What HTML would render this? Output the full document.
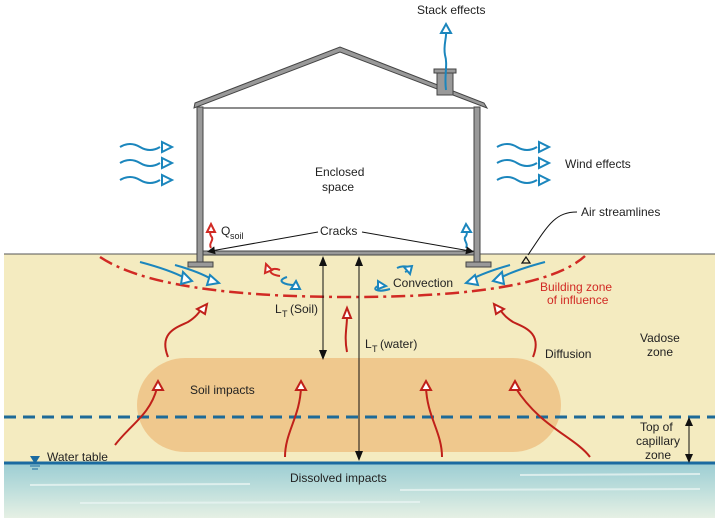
<!DOCTYPE html>
<html><head><meta charset="utf-8"><style>
html,body{margin:0;padding:0;background:#fff}
svg{display:block}
text{font-family:"Liberation Sans",sans-serif;font-size:12px;fill:#222}
</style></head><body>
<svg width="719" height="522" viewBox="0 0 719 522" xmlns="http://www.w3.org/2000/svg">
<defs>
<linearGradient id="wat" x1="0" y1="0" x2="0" y2="1">
<stop offset="0" stop-color="#9ccdd3"/><stop offset="0.5" stop-color="#bfdfdc"/><stop offset="1" stop-color="#e6f0e4"/>
</linearGradient>
<marker id="ah" markerWidth="8" markerHeight="8" refX="4" refY="4" orient="auto"><path d="M0,0 L8,4 L0,8 Z" fill="#111"/></marker>
</defs>
<rect x="4" y="254" width="711" height="209" fill="#f4ebc0"/>
<rect x="4" y="463" width="711" height="55" fill="url(#wat)"/>
<g stroke="#e8f4f2" stroke-width="2" opacity="0.8">
<line x1="30" y1="485" x2="250" y2="484"/><line x1="400" y1="490" x2="700" y2="489"/><line x1="80" y1="503" x2="420" y2="502"/><line x1="520" y1="475" x2="700" y2="474"/>
</g>
<rect x="137" y="358" width="424" height="94" rx="48" fill="#eec487" opacity="0.9"/>
<line x1="4" y1="254" x2="715" y2="254" stroke="#555" stroke-width="1"/>
<line x1="4" y1="417" x2="715" y2="417" stroke="#1d6a98" stroke-width="3" stroke-dasharray="12,7"/>
<line x1="4" y1="463" x2="715" y2="463" stroke="#1a6aa0" stroke-width="3"/>
<g fill="#999" stroke="#444" stroke-width="1">
<polygon points="195,103 340,47 484,103 487,108 340,52 194,108"/>
<rect x="434" y="69" width="22" height="4"/>
<rect x="437" y="73" width="16" height="22"/>
<rect x="197" y="107" width="6" height="155"/>
<rect x="474" y="107" width="6" height="155"/>
<rect x="203" y="251" width="271" height="4"/>
<rect x="188" y="262" width="25" height="5"/>
<rect x="466" y="262" width="25" height="5"/>
</g>
<line x1="203" y1="108" x2="474" y2="108" stroke="#666" stroke-width="1.5"/>
<path d="M446,90 C444,75 448,65 445,55 C443,45 447,38 446,30" stroke="#1b86bd" stroke-width="2" fill="none"/>
<polygon points="441,33 446,24 451,33" fill="#fff" stroke="#1b86bd" stroke-width="2"/>
<g stroke="#1b86bd" stroke-width="2" fill="none">
<path d="M120,147 q10,-6 20,0 q10,6 20,0"/><path d="M120,163 q10,-6 20,0 q10,6 20,0"/><path d="M120,180 q10,-6 20,0 q10,6 20,0"/>
<path d="M497,147 q10,-6 20,0 q10,6 20,0"/><path d="M497,163 q10,-6 20,0 q10,6 20,0"/><path d="M497,180 q10,-6 20,0 q10,6 20,0"/>
</g>
<g fill="#fff" stroke="#1b86bd" stroke-width="2">
<polygon points="162,142 172,147 162,152"/><polygon points="162,158 172,163 162,168"/><polygon points="162,175 172,180 162,185"/>
<polygon points="539,142 549,147 539,152"/><polygon points="539,158 549,163 539,168"/><polygon points="539,175 549,180 539,185"/>
</g>
<path d="M100,257 Q160,297 350,297 Q540,297 585,256" stroke="#d12a24" stroke-width="2.5" fill="none" stroke-dasharray="14,5,3,5"/>
<g stroke="#1b86bd" stroke-width="2" fill="none">
<path d="M140,262 Q170,270 185,278"/><path d="M175,265 Q200,272 213,280"/>
<path d="M545,262 Q515,270 500,278"/><path d="M510,265 Q485,272 470,280"/>
<path d="M211,248 c-3,-5 4,-8 0,-12 c-2,-3 0,-6 0,-8" stroke="#d12a24"/>
<path d="M466,248 c3,-5 -4,-8 0,-12 c2,-3 0,-6 0,-8"/>
<path d="M295,285 c-10,0 -20,-4 -8,-8 M380,285 c-10,4 -3,8 10,4 M405,272 c10,-4 0,-8 -8,-4"/>
<path d="M280,270 c-10,-4 -15,4 0,6" stroke="#d12a24"/>
</g>
<g fill="#fff" stroke="#1b86bd" stroke-width="2">
<polygon points="183,272 192,281 181,284"/><polygon points="210,275 219,283 207,285"/>
<polygon points="502,272 493,281 504,284"/><polygon points="475,275 466,283 478,285"/>
<polygon points="462,232 466,224 471,232"/>
<polygon points="296,281 300,289 291,289"/><polygon points="378,281 378,289 386,286"/><polygon points="404,267 412,266 410,274"/>
</g>
<g fill="#fff" stroke="#d12a24" stroke-width="2">
<polygon points="207,232 211,224 215,232"/><polygon points="266,264 272,270 265,273"/>
</g>
<polygon points="522,263 526,257 530,263" fill="none" stroke="#111" stroke-width="1.2"/>
<line x1="318" y1="232" x2="211" y2="251" stroke="#111" stroke-width="1" marker-end="url(#ah)"/>
<line x1="362" y1="232" x2="470" y2="251" stroke="#111" stroke-width="1" marker-end="url(#ah)"/>
<path d="M577,212 C555,212 548,225 528,255" stroke="#111" stroke-width="1" fill="none"/>
<line x1="323" y1="262" x2="323" y2="352" stroke="#111" stroke-width="1"/>
<polygon points="319,266 323,256 327,266" fill="#111"/><polygon points="319,350 323,360 327,350" fill="#111"/>
<line x1="359" y1="262" x2="359" y2="455" stroke="#111" stroke-width="1"/>
<polygon points="355,266 359,256 363,266" fill="#111"/><polygon points="355,451 359,461 363,451" fill="#111"/>
<line x1="689" y1="422" x2="689" y2="458" stroke="#111" stroke-width="1"/>
<polygon points="685,426 689,417 693,426" fill="#111"/><polygon points="685,454 689,463 693,454" fill="#111"/>
<g stroke="#c0201a" stroke-width="2" fill="none">
<path d="M168,357 c-10,-25 10,-30 20,-35 c8,-5 12,-10 14,-15"/>
<path d="M347,352 c-3,-15 0,-25 0,-35"/>
<path d="M533,357 c10,-25 -10,-30 -20,-35 c-8,-5 -12,-10 -14,-15"/>
<path d="M115,445 c15,-20 35,-30 42,-57"/>
<path d="M285,457 c0,-25 15,-40 16,-70"/>
<path d="M442,457 c0,-25 -15,-40 -16,-70"/>
<path d="M590,457 c-15,-20 -50,-30 -75,-70"/>
</g>
<g fill="#fff" stroke="#c0201a" stroke-width="2">
<polygon points="197,309 207,304 205,314"/><polygon points="343,318 347,308 351,318"/><polygon points="504,309 494,304 496,314"/>
<polygon points="153,390 158,381 163,390"/><polygon points="296,390 301,381 306,390"/><polygon points="421,390 426,381 431,390"/><polygon points="510,390 515,381 520,390"/>
</g>
<polygon points="30,456 40,456 35,464" fill="#1a6aa0"/>
<line x1="30" y1="466" x2="40" y2="466" stroke="#1a6aa0"/><line x1="32" y1="469" x2="38" y2="469" stroke="#1a6aa0"/>
<text x="417" y="14">Stack effects</text>
<text x="565" y="168">Wind effects</text>
<text x="581" y="216">Air streamlines</text>
<text x="315" y="176">Enclosed</text>
<text x="322" y="191">space</text>
<text x="221" y="235">Q</text><text x="230" y="239" style="font-size:9px">soil</text>
<text x="320" y="235">Cracks</text>
<text x="393" y="287">Convection</text>
<text x="540" y="291" style="fill:#d12a24">Building zone</text>
<text x="547" y="304" style="fill:#d12a24">of influence</text>
<text x="275" y="313">L</text><text x="282" y="317" style="font-size:9px">T</text><text x="290" y="313">(Soil)</text>
<text x="365" y="348">L</text><text x="372" y="352" style="font-size:9px">T</text><text x="380" y="348">(water)</text>
<text x="545" y="358">Diffusion</text>
<text x="640" y="342">Vadose</text>
<text x="647" y="356">zone</text>
<text x="190" y="394">Soil impacts</text>
<text x="640" y="431">Top of</text>
<text x="636" y="445">capillary</text>
<text x="645" y="459">zone</text>
<text x="47" y="461">Water table</text>
<text x="290" y="482">Dissolved impacts</text>
</svg>
</body></html>
